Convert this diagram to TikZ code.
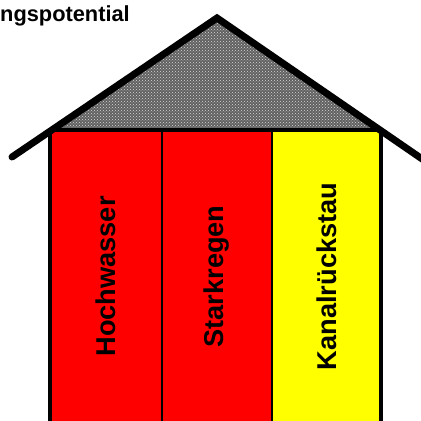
\documentclass[tikz,border=0pt]{standalone}
\usepackage{fontspec}
\setmainfont{Liberation Sans}
\usetikzlibrary{positioning, patterns}
\definecolor{rot}{rgb}{1,0,0}
\definecolor{gelb}{rgb}{1,1,0}
\definecolor{dach}{rgb}{0.38,0.38,0.38}
\tikzset{
  spalte/.style={draw=black, line width=1.2pt, inner sep=0pt, outer sep=0pt,
    minimum height=293pt, font=\fontsize{27.2}{30}\selectfont\bfseries},
  wand/.style={line width=3.5pt},
  dachlinie/.style={line width=7pt, line cap=round, line join=miter},
  titel/.style={inner sep=0pt, font=\fontsize{21.8}{25}\selectfont\bfseries},
}

\begin{document}
\begin{tikzpicture}[x=1pt, y=1pt]
    \clip (0,0) rectangle (421,421);
    \coordinate (TL) at (12,264);
    \coordinate (TS) at (217,403);
    \coordinate (TR) at (428,258);

    \node[titel, anchor=base west] (T) at (0,399) {ngspotential};

    \node[spalte, fill=rot, minimum width=112pt, anchor=north west] (H) at (50,291)
      {\rotatebox{90}{Hochwasser}};
    \node[spalte, fill=rot, minimum width=110pt, right=0pt of H] (S)
      {\rotatebox{90}{Starkregen}};
    \node[spalte, fill=gelb, minimum width=109pt, right=0pt of S] (K)
      {\rotatebox{90}{Kanalrückstau}};

    \fill[dach] (H.north west) -- (TS) -- (K.north east) -- cycle;
    \fill[pattern=crosshatch dots, pattern color=white!70!gray] (H.north west) -- (TS) -- (K.north east) -- cycle;

    \draw[wand] (H.south west) -- (H.north west) -- (K.north east) -- (K.south east);
    \draw[dachlinie] (TL) -- (TS) -- (TR);
  \end{tikzpicture}
\end{document}
